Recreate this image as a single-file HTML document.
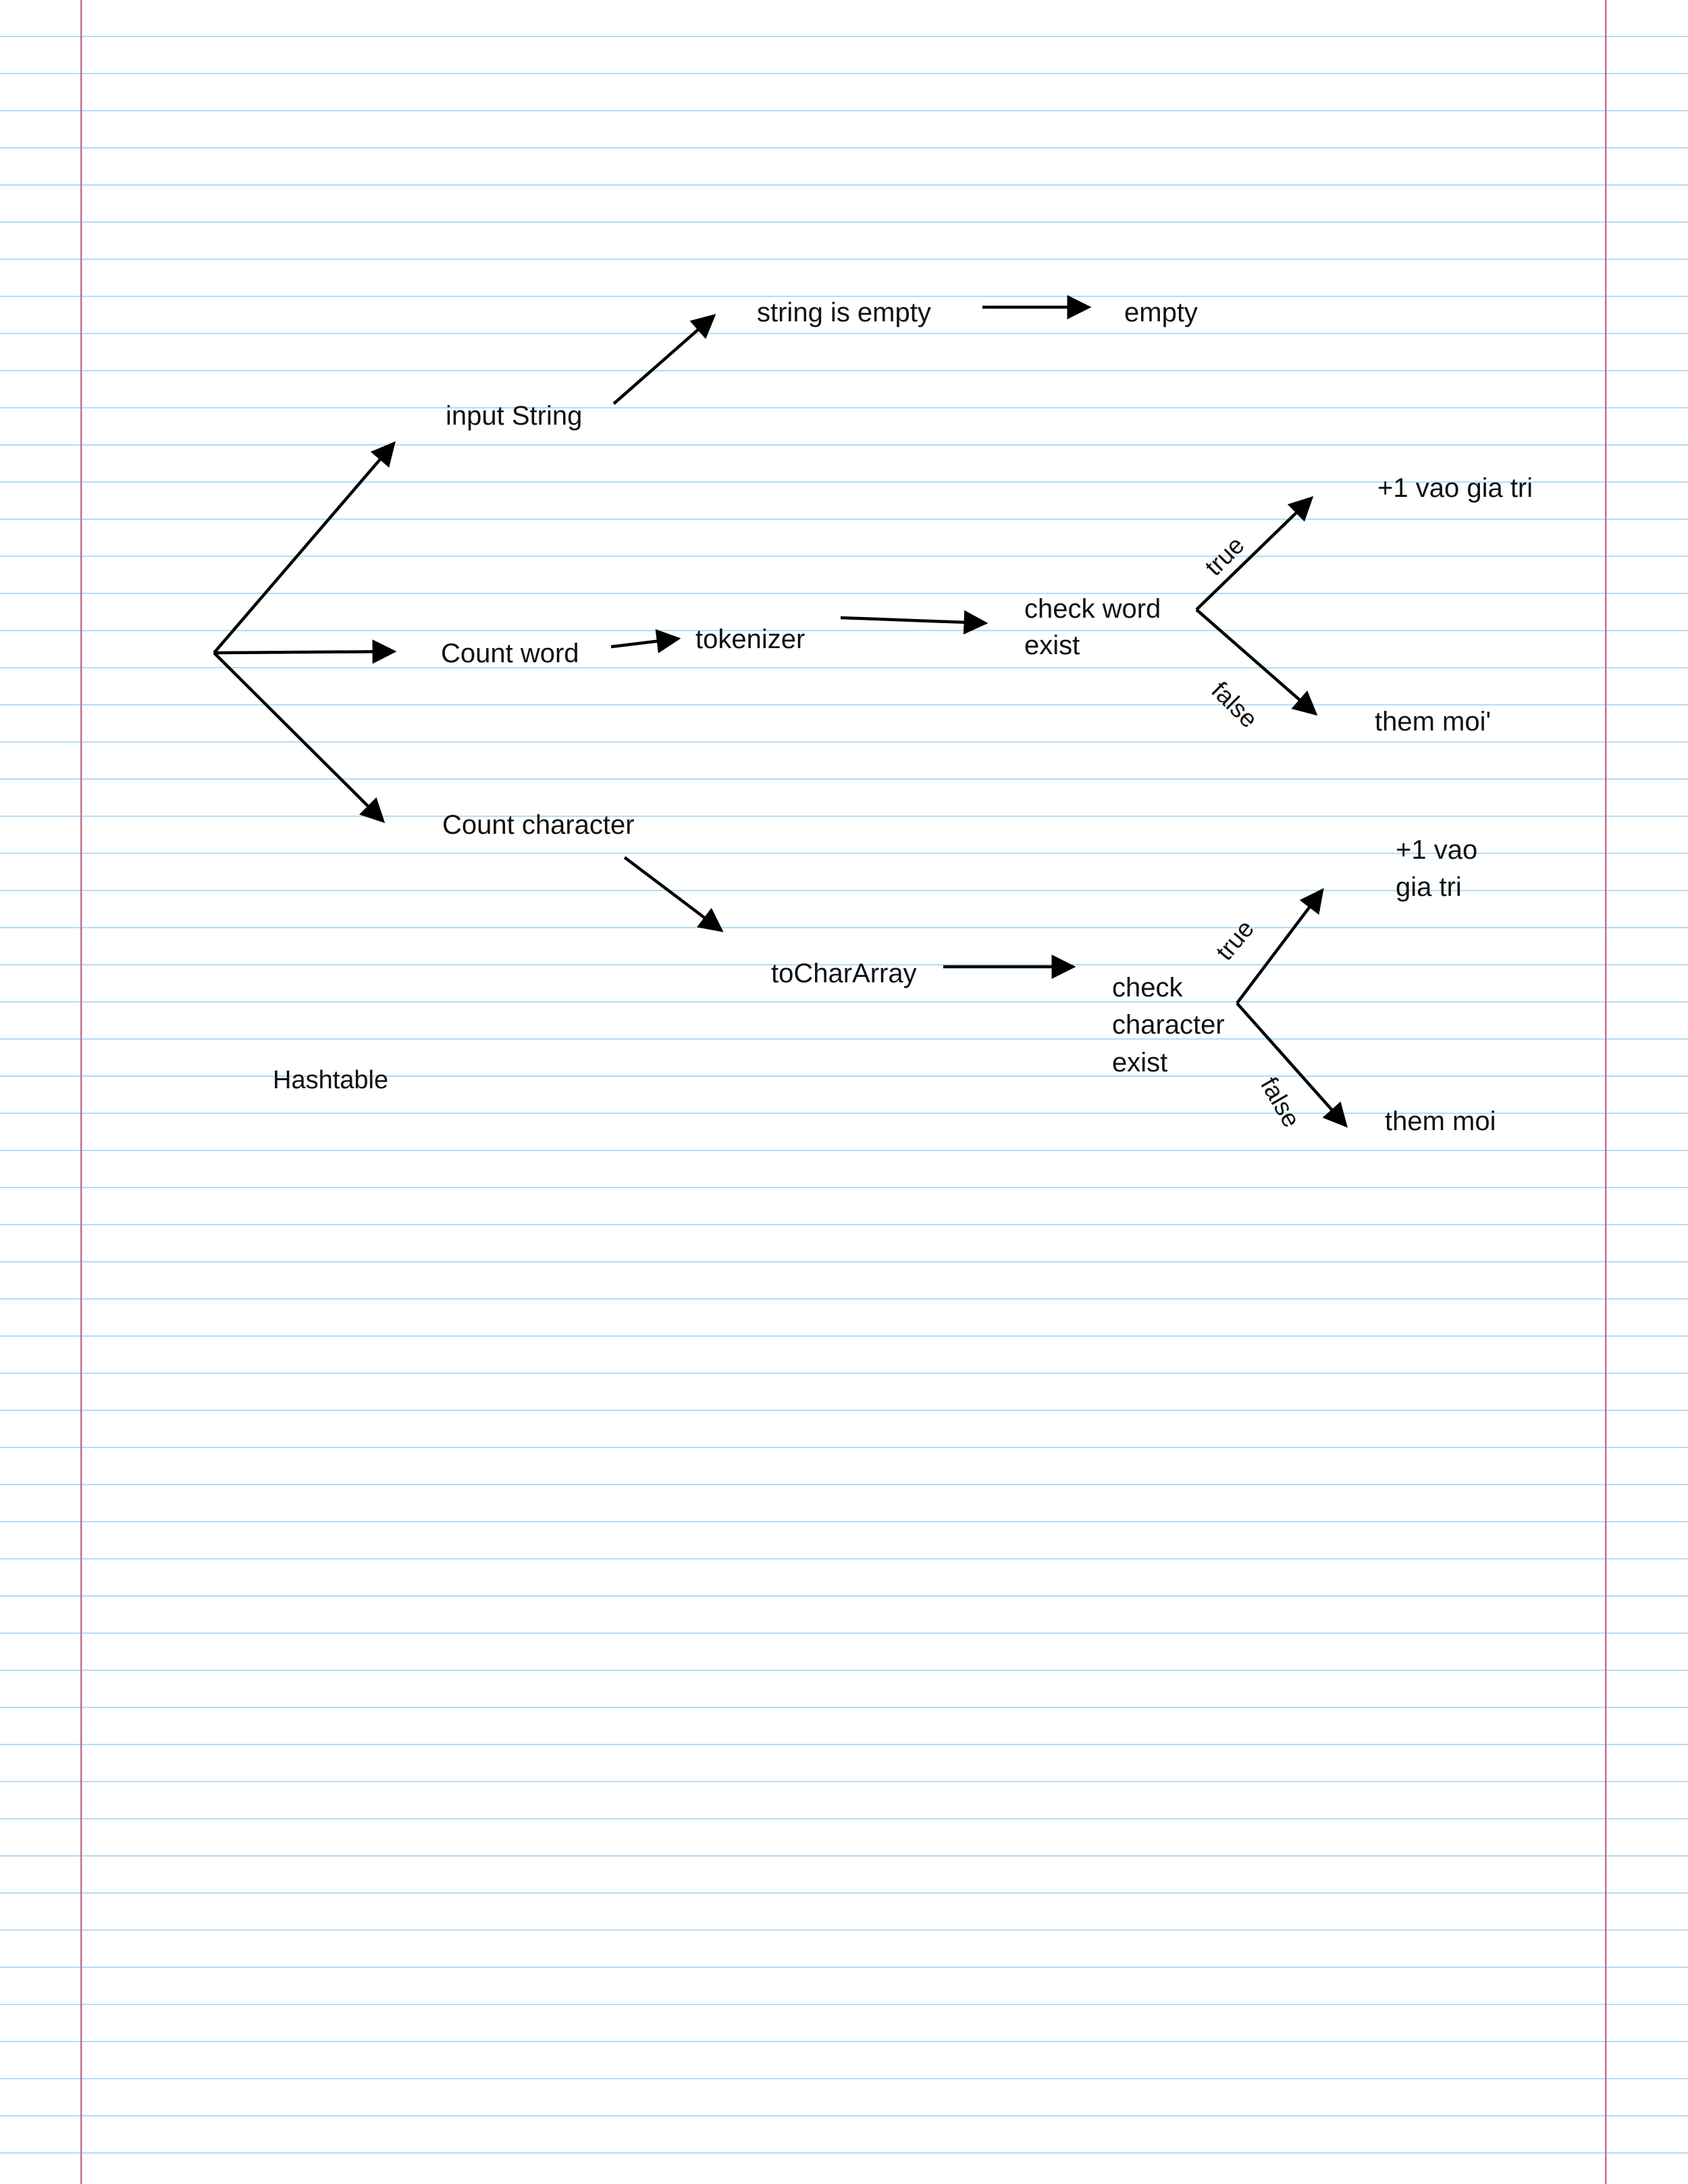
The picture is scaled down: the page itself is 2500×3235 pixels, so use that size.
<!DOCTYPE html>
<html><head><meta charset="utf-8"><style>
html,body{margin:0;padding:0;background:#fff}
svg{display:block}
text{font-family:"Liberation Sans",sans-serif;font-size:40px;fill:#111}
</style></head><body>
<svg width="2500" height="3235" viewBox="0 0 2500 3235" xmlns="http://www.w3.org/2000/svg">
<defs>
<pattern id="ln" width="2500" height="55" patternUnits="userSpaceOnUse">
<rect x="0" y="53" width="2500" height="3" fill="#b5dcf6"/>
</pattern>
<marker id="a" markerWidth="8" markerHeight="8" refX="7" refY="4" orient="auto" markerUnits="strokeWidth">
<path d="M0,0 L8,4 L0,8 Z" fill="#000"/>
</marker>
</defs>
<rect width="2500" height="3235" fill="url(#ln)"/>
<rect x="119" y="0" width="2.5" height="3235" fill="#c27390"/>
<rect x="2377" y="0" width="2.5" height="3235" fill="#c27390"/>
<g stroke="#000" stroke-width="4.5" fill="none" marker-end="url(#a)">
<line x1="317" y1="967" x2="583" y2="657"/>
<line x1="317" y1="967" x2="583" y2="965"/>
<line x1="317" y1="967" x2="567" y2="1216"/>
<line x1="909" y1="598" x2="1057" y2="468"/>
<line x1="1455" y1="455" x2="1612" y2="455"/>
<line x1="905" y1="958" x2="1004" y2="946"/>
<line x1="1245" y1="915" x2="1459" y2="923"/>
<line x1="1772" y1="903" x2="1942" y2="738"/>
<line x1="1772" y1="903" x2="1948" y2="1057"/>
<line x1="925" y1="1270" x2="1068" y2="1378"/>
<line x1="1397" y1="1432" x2="1589" y2="1432"/>
<line x1="1832" y1="1486" x2="1958" y2="1319"/>
<line x1="1832" y1="1486" x2="1993" y2="1667"/>
</g>
<text x="660" y="629">input String</text>
<text x="1121" y="476">string is empty</text>
<text x="1665" y="476">empty</text>
<text x="653" y="981">Count word</text>
<text x="1030" y="960">tokenizer</text>
<text x="1517" y="915">check word</text>
<text x="1517" y="969">exist</text>
<text x="2040" y="736">+1 vao gia tri</text>
<text x="2036" y="1082">them moi'</text>
<text x="655" y="1235">Count character</text>
<text x="1142" y="1455">toCharArray</text>
<text x="1647" y="1476">check</text>
<text x="1647" y="1531">character</text>
<text x="1647" y="1587">exist</text>
<text x="2067" y="1272">+1 vao</text>
<text x="2067" y="1327">gia tri</text>
<text x="2051" y="1674">them moi</text>
<text x="404" y="1612" style="font-size:38px">Hashtable</text>
<text transform="translate(1800,855) rotate(-45)" style="font-size:37px">true</text>
<text transform="translate(1792,1025) rotate(45)" style="font-size:37px">false</text>
<text transform="translate(1818,1425) rotate(-50)" style="font-size:37px">true</text>
<text transform="translate(1866,1605) rotate(60)" style="font-size:37px">false</text>
</svg>
</body></html>
